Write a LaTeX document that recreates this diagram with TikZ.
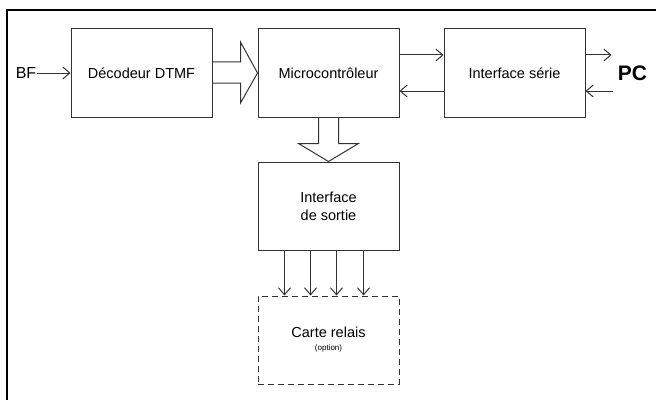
\documentclass[tikz,border=0pt]{standalone}
\usepackage{fontspec}
\setmainfont{Liberation Sans}
\usetikzlibrary{positioning, arrows.meta, calc}

\begin{document}
\begin{tikzpicture}[
  x=1pt, y=1pt,
  block/.style={draw=black!80, line width=1pt, minimum width=141pt, minimum height=88pt,
    align=center, inner sep=2pt, font=\fontsize{14.5}{18}\selectfont},
  optblock/.style={block, dash pattern=on 6pt off 4pt},
  sig/.style={draw=black!80, line width=1pt, -{Straight Barb[length=7pt,width=12pt]}},
  bigarrow/.style={draw=black!80, line width=1pt, line join=miter}
]
  \useasboundingbox (0,0) rectangle (656,400);
  % frame
  \draw[line width=2pt] (656,390) -- (7,390) -- (7,0);

  \node[block] (dec) at (141.5,327) {Décodeur DTMF};
  \node[block, right=45pt of dec] (mcu) {Microcontrôleur};
  \node[block, right=44pt of mcu] (ser) {Interface série};
  \node[block, below=44pt of mcu] (out) {Interface\\de sortie};
  \node[optblock, below=45pt of out] (relais) {Carte relais\\[-5pt]{\fontsize{8}{9}\selectfont(option)}};

  \node[inner sep=1pt, font=\fontsize{16}{18}\selectfont] (bf) at (26,327) {BF};
  \node[inner sep=1pt, font=\fontsize{21}{24}\selectfont\bfseries] (pc) at (632.5,327) {PC};
  \coordinate (pcout) at ($(ser.east)+(26,18)$);
  \coordinate (pcin) at ($(ser.east)+(27,-18)$);

  % signals
  \draw[sig] (bf) -- (dec);
  \draw[sig] ($(mcu.east)+(0,18)$) -- ($(ser.west)+(0,18)$);
  \draw[sig] ($(ser.west)+(0,-18)$) -- ($(mcu.east)+(0,-18)$);
  \draw[sig] ($(ser.east)+(0,18)$) -- (pcout);
  \draw[sig] (pcin) -- ($(ser.east)+(0,-18)$);
  \foreach \dx in {-44,-18,8,35}
    \draw[sig] ($(out.south)+(\dx,0)$) -- ($(relais.north)+(\dx,0)$);

  % buses
  \draw[bigarrow] ($(dec.east)+(0,11)$) -- ++(28,0) -- ++(0,20) -- (mcu.west)
    -- ++(-17,-30) -- ++(0,20) -- ++(-28,0);
  \draw[bigarrow] ($(mcu.south)+(-10,0)$) -- ++(0,-26) -- ++(-20,0) -- (out.north)
    -- ++(30,18) -- ++(-20,0) -- ++(0,26);
\end{tikzpicture}
\end{document}
